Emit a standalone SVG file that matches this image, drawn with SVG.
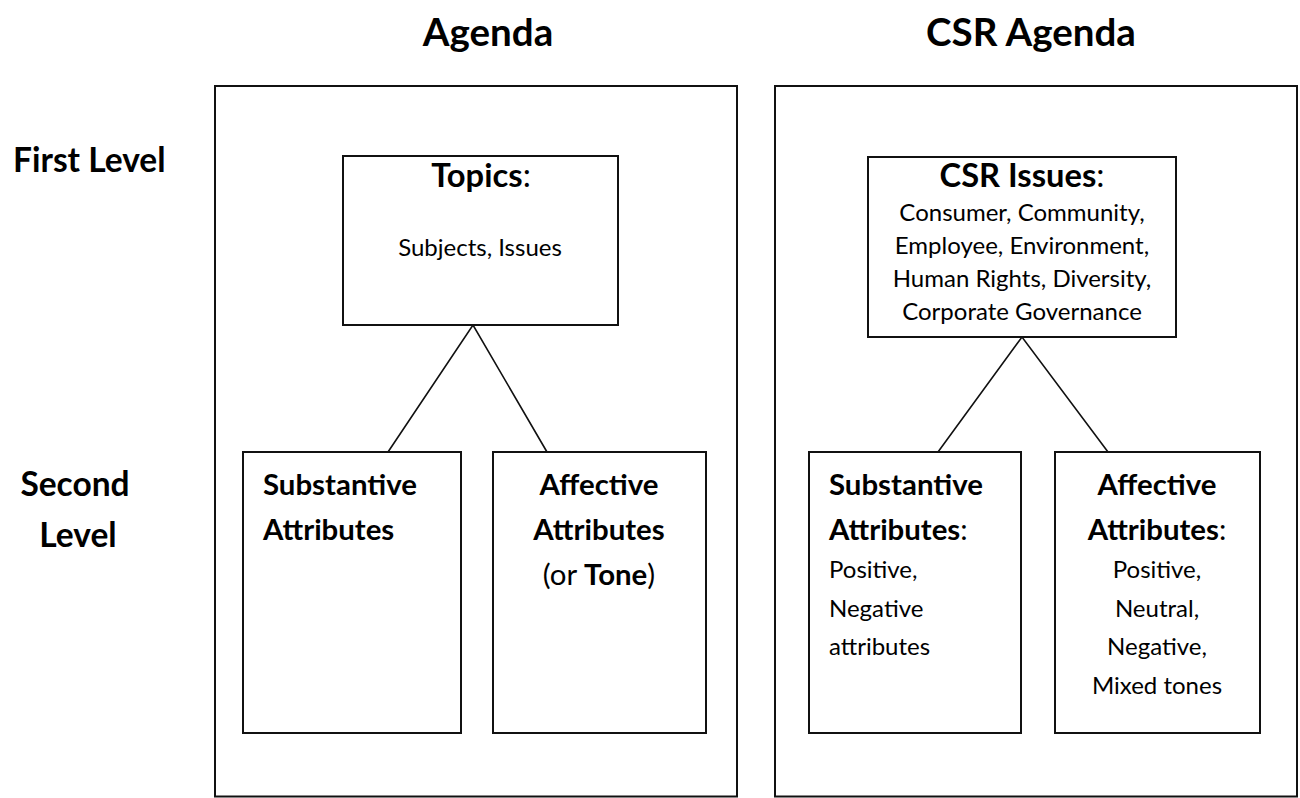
<svg xmlns="http://www.w3.org/2000/svg" width="1300" height="798" viewBox="0 0 1300 798">
  <style>
    text { font-family: Lato, "Open Sans", "Liberation Sans", sans-serif; fill: #000; }
    .title { font-size: 38.5px; font-weight: bold; text-anchor: middle; }
    .level { font-size: 33.5px; font-weight: bold; }
    .head { font-size: 32.7px; font-weight: bold; text-anchor: middle; }
    .body { font-size: 24px; text-anchor: middle; }
    .attr { font-size: 29.4px; font-weight: bold; }
    .val { font-size: 24px; }
    .b { font-weight: bold; }
    .r { font-weight: normal; }
    .mid { text-anchor: middle; }
    .box { fill: #fff; stroke: #111; stroke-width: 2; }
    .link { stroke: #111; stroke-width: 1.6; fill: none; }
  </style>
  <rect width="1300" height="798" fill="#fff"/>

  <!-- column titles -->
  <text class="title" x="488" y="46">Agenda</text>
  <text class="title" x="1031" y="46">CSR Agenda</text>

  <!-- row labels -->
  <text class="level" x="13" y="172">First Level</text>
  <text class="level mid" x="75" y="496">Second</text>
  <text class="level mid" x="78" y="547">Level</text>

  <!-- outer panels -->
  <rect id="panel-agenda" class="box" x="215" y="86" width="522" height="710.5"/>
  <rect id="panel-csr" class="box" x="775" y="86" width="522" height="710.5"/>

  <!-- connectors -->
  <g id="connectors">
    <polyline class="link" points="388,452 473,325 547,452"/>
    <polyline class="link" points="938,452 1022,337 1108,452"/>
  </g>

  <!-- Agenda: first level -->
  <g id="topics">
    <rect class="box" x="343" y="156" width="275" height="169"/>
    <text class="head" x="481" y="187">Topics<tspan class="r">:</tspan></text>
    <text class="body" x="480" y="256">Subjects, Issues</text>
  </g>

  <!-- Agenda: second level -->
  <g id="substantive">
    <rect class="box" x="243" y="452" width="218" height="281"/>
    <text class="attr" x="263" y="495">Substantive</text>
    <text class="attr" x="263" y="540">Attributes</text>
  </g>
  <g id="affective">
    <rect class="box" x="493" y="452" width="213" height="281"/>
    <text class="attr mid" x="599" y="495">Affective</text>
    <text class="attr mid" x="599" y="540">Attributes</text>
    <text class="attr mid" x="599" y="585"><tspan class="r">(or </tspan>Tone<tspan class="r">)</tspan></text>
  </g>

  <!-- CSR Agenda: first level -->
  <g id="csr-issues">
    <rect class="box" x="868" y="157" width="308" height="180"/>
    <text class="head" x="1022" y="187">CSR Issues<tspan class="r">:</tspan></text>
    <text class="body" x="1022" y="221">Consumer, Community,</text>
    <text class="body" x="1022" y="254">Employee, Environment,</text>
    <text class="body" x="1022" y="287">Human Rights, Diversity,</text>
    <text class="body" x="1022" y="320">Corporate Governance</text>
  </g>

  <!-- CSR Agenda: second level -->
  <g id="csr-substantive">
    <rect class="box" x="809" y="452" width="212" height="281"/>
    <text class="attr" x="829" y="495">Substantive</text>
    <text class="attr" x="829" y="540">Attributes<tspan class="r">:</tspan></text>
    <text class="val" x="829" y="578">Positive,</text>
    <text class="val" x="829" y="616.5">Negative</text>
    <text class="val" x="829" y="655">attributes</text>
  </g>
  <g id="csr-affective">
    <rect class="box" x="1055" y="452" width="205" height="281"/>
    <text class="attr mid" x="1157" y="495">Affective</text>
    <text class="attr mid" x="1157" y="540">Attributes<tspan class="r">:</tspan></text>
    <text class="val mid" x="1157" y="578">Positive,</text>
    <text class="val mid" x="1157" y="616.5">Neutral,</text>
    <text class="val mid" x="1157" y="655">Negative,</text>
    <text class="val mid" x="1157" y="693.5">Mixed tones</text>
  </g>
</svg>
